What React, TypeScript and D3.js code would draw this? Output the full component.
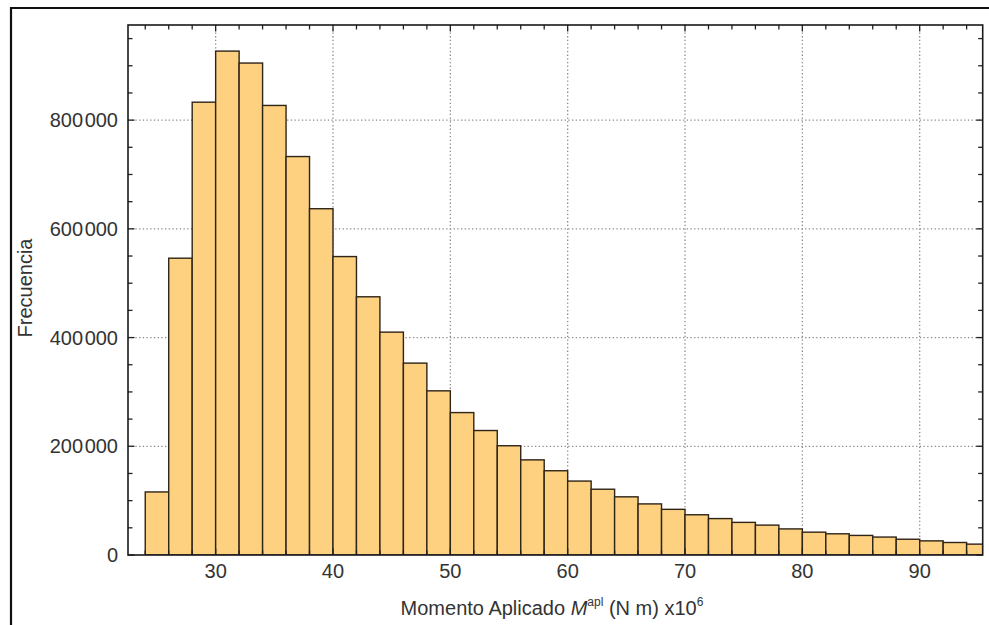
import React from "react";
import * as d3 from "d3";

// Histogram bins (left edges), bin width 2
const binStarts = [24, 26, 28, 30, 32, 34, 36, 38, 40, 42, 44, 46, 48, 50, 52, 54, 56, 58, 60, 62, 64, 66, 68, 70, 72, 74, 76, 78, 80, 82, 84, 86, 88, 90, 92, 94];
const binCounts = [116000, 546000, 833000, 927000, 905000, 827000, 733000, 637000, 549000, 475000, 410000, 353000, 302000, 262000, 229000, 201000, 175000, 155000, 136000, 121000, 107000, 94000, 84000, 74000, 67000, 60000, 55000, 48000, 42000, 39000, 36000, 33000, 29000, 26000, 23000, 20000];
const binWidth = 2;

const xMajorTicks = [30, 40, 50, 60, 70, 80, 90];
const xMinorTicks = d3.range(24, 96, 2);
const yMajorTicks = [0, 200000, 400000, 600000, 800000];
const yMinorTicks = d3.range(0, 975000, 50000);

const W = 989;
const H = 625;
const L = 128, R = 982.7, T = 25, B = 555;

function fmt(v: number) {
  if (v === 0) return ["0"];
  const s = String(v);
  return [s.slice(0, s.length - 3), s.slice(s.length - 3)];
}

export default function App() {
  const x = d3.scaleLinear().domain([22.53, 95.37]).range([L, R]);
  const y = d3.scaleLinear().domain([0, 975000]).range([B, T]);
  const font = "'Liberation Sans', Arial, sans-serif";
  const textColor = "#333";

  return (
    <svg width={W} height={H} style={{ position: "fixed", left: 0, top: 0, background: "#fff" }}>
      <defs>
        <clipPath id="plotClip">
          <rect x={L} y={T} width={R - L} height={B - T} />
        </clipPath>
      </defs>
      <rect x={0} y={0} width={W} height={H} fill="#fff" />
      {/* outer frame */}
      <path d={`M11,${H + 5} L11,8 L${W + 5},8`} fill="none" stroke="#111" strokeWidth={2.2} />

      {/* gridlines */}
      <g stroke="#8a8a8a" strokeWidth={1.3} strokeDasharray="1.3,2.4" fill="none">
        {xMajorTicks.map((t) => (
          <line key={"gx" + t} x1={x(t)} x2={x(t)} y1={T} y2={B} />
        ))}
        {yMajorTicks.filter((t) => t > 0).map((t) => (
          <line key={"gy" + t} x1={L} x2={R} y1={y(t)} y2={y(t)} />
        ))}
      </g>

      {/* bars */}
      <g clipPath="url(#plotClip)">
        {binStarts.map((s, i) => (
          <rect
            key={"b" + s}
            x={x(s)}
            y={y(binCounts[i])}
            width={x(s + binWidth) - x(s)}
            height={y(0) - y(binCounts[i])}
            fill="#FDD17F"
            stroke="#2e2418"
            strokeWidth={1.4}
          />
        ))}
      </g>

      {/* ticks */}
      <g stroke="#222" strokeWidth={1.3}>
        {xMinorTicks.map((t) => {
          const len = t % 10 === 0 ? 6.5 : 4.5;
          return (
            <g key={"xt" + t}>
              <line x1={x(t)} x2={x(t)} y1={T} y2={T + len} />
              <line x1={x(t)} x2={x(t)} y1={B} y2={B - len} />
            </g>
          );
        })}
        {yMinorTicks.map((t) => {
          const len = t % 200000 === 0 ? 6.5 : 4.5;
          return (
            <g key={"yt" + t}>
              <line x1={L} x2={L + len} y1={y(t)} y2={y(t)} />
              <line x1={R} x2={R - len} y1={y(t)} y2={y(t)} />
            </g>
          );
        })}
      </g>

      {/* plot frame */}
      <rect x={L} y={T} width={R - L} height={B - T} fill="none" stroke="#1a1a1a" strokeWidth={1.6} />

      {/* tick labels */}
      <g fontFamily={font} fontSize={20} fill={textColor}>
        {yMajorTicks.map((t) => {
          const parts = fmt(t);
          return (
            <text key={"yl" + t} x={L - 10} y={y(t) + 7} textAnchor="end">
              {parts[0]}
              {parts.length > 1 ? <tspan dx={1.5}>{parts[1]}</tspan> : null}
            </text>
          );
        })}
        {xMajorTicks.map((t) => (
          <text key={"xl" + t} x={x(t)} y={578} textAnchor="middle">
            {t}
          </text>
        ))}
      </g>

      {/* axis labels */}
      <text x={552} y={615} textAnchor="middle" fontFamily={font} fontSize={20} fill={textColor}>
        Momento Aplicado <tspan fontStyle="italic">M</tspan>
        <tspan fontSize={12} dy={-9}>apl</tspan>
        <tspan dy={9}> (N m) x10</tspan>
        <tspan fontSize={12} dy={-9}>6</tspan>
      </text>
      <text
        transform={`translate(32,288) rotate(-90)`}
        textAnchor="middle"
        fontFamily={font}
        fontSize={20}
        fill={textColor}
      >
        Frecuencia
      </text>
    </svg>
  );
}
